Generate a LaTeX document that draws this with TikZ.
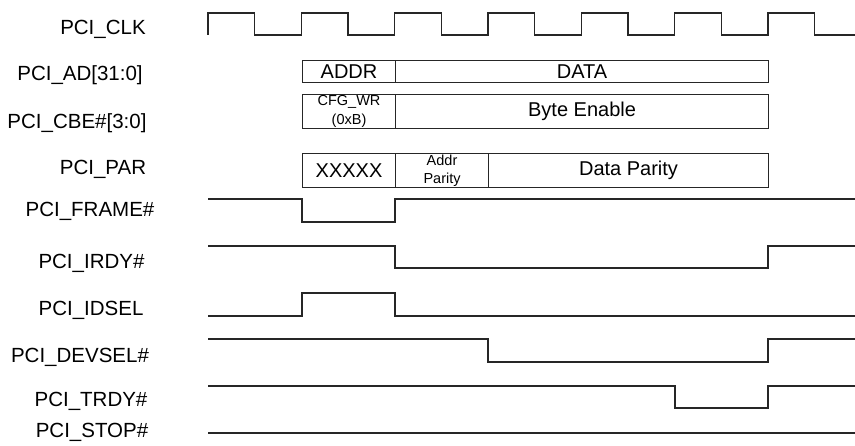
\documentclass[tikz,border=0pt]{standalone}
\usepackage{fontspec}
\setmainfont{Liberation Sans}
\begin{document}
\begin{tikzpicture}[x=1pt,y=-1pt,
  wave/.style={line width=1.1pt,black!85},
  siglabel/.style={font=\fontsize{20.5}{24}\selectfont,inner sep=0pt,anchor=center},
  bus/.style={draw=black!85,line width=1.1pt,inner sep=0pt,anchor=north west,font=\fontsize{20}{22}\selectfont},
  smalltxt/.style={font=\fontsize{14.5}{18.5}\selectfont,align=center}]
\useasboundingbox (0,0) rectangle (855,446);
% labels
\node[siglabel] (lclk) at (103,29) {PCI\_CLK};
\node[siglabel] (lad) at (80,75) {PCI\_AD[31:0]};
\node[siglabel] (lcbe) at (77,123) {PCI\_CBE\#[3:0]};
\node[siglabel] (lpar) at (103,169) {PCI\_PAR};
\node[siglabel] (lframe) at (90,211) {PCI\_FRAME\#};
\node[siglabel] (lirdy) at (91.5,263) {PCI\_IRDY\#};
\node[siglabel] (lidsel) at (91,310) {PCI\_IDSEL};
\node[siglabel] (ldevsel) at (80,357) {PCI\_DEVSEL\#};
\node[siglabel] (ltrdy) at (91,401) {PCI\_TRDY\#};
\node[siglabel] (lstop) at (92,432) {PCI\_STOP\#};
% clock
\def\hp{46.667}
\draw[wave] (208,35) -- (208,13)
  \foreach \k in {0,...,6} {
    -- ({208+(2*\k+1)*\hp},13) -- ({208+(2*\k+1)*\hp},35)
    -- ({208+(2*\k+2)*\hp},35) \ifnum\k<6 -- ({208+(2*\k+2)*\hp},13)\fi
  };
\draw[wave] ({208+14*\hp},35) -- (853,35);
% buses
\node[bus,minimum width=93pt,minimum height=22pt] (addr) at (302,60) {ADDR};
\node[bus,minimum width=373pt,minimum height=22pt] (data) at (395,60) {DATA};
\node[bus,minimum width=93pt,minimum height=34pt,smalltxt] (cfg) at (302,94) {CFG\_WR\\(0xB)};
\node[bus,minimum width=373pt,minimum height=34pt] (be) at (395,94) {Byte Enable};
\node[bus,minimum width=93pt,minimum height=34pt] (xx) at (302,153) {XXXXX};
\node[bus,minimum width=93pt,minimum height=34pt,smalltxt] (ap) at (395,153) {Addr\\Parity};
\node[bus,minimum width=280pt,minimum height=34pt] (dp) at (488,153) {Data Parity};
% control signals
\draw[wave] (208,199) -- (302,199) -- (302,222) -- (395,222) -- (395,199) -- (855,199);
\draw[wave] (208,246) -- (395,246) -- (395,268) -- (768,268) -- (768,246) -- (855,246);
\draw[wave] (208,316) -- (302,316) -- (302,293) -- (395,293) -- (395,316) -- (855,316);
\draw[wave] (208,339) -- (488,339) -- (488,362) -- (768,362) -- (768,339) -- (855,339);
\draw[wave] (208,386) -- (675,386) -- (675,408) -- (768,408) -- (768,386) -- (855,386);
\draw[wave] (208,433) -- (855,433);
\end{tikzpicture}
\end{document}
